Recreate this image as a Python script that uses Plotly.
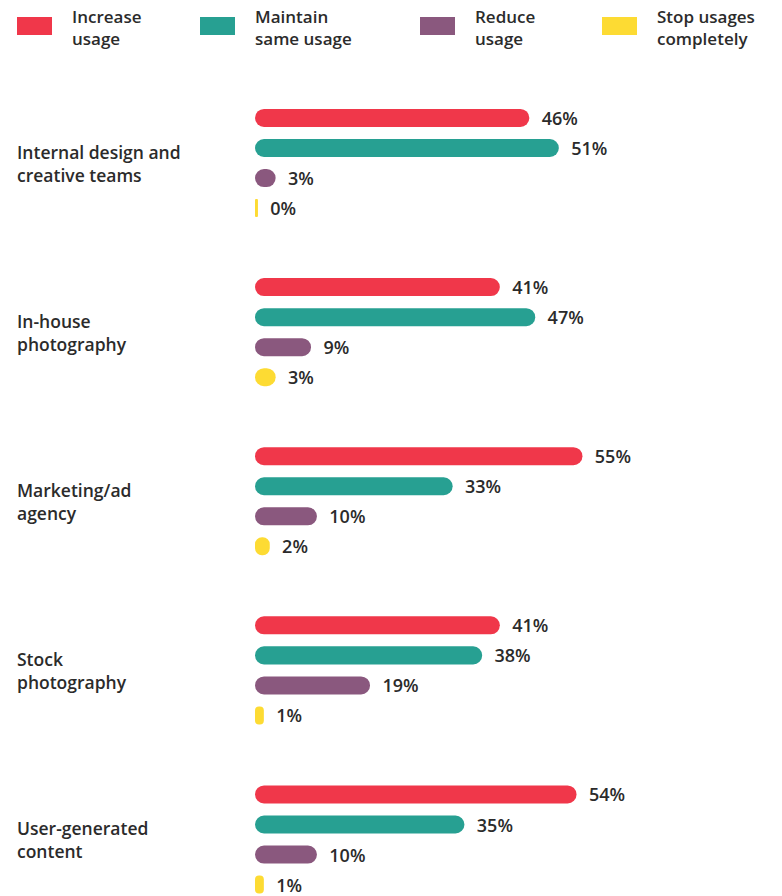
import plotly.graph_objects as go

# Survey data: planned change in usage per content source
categories = [
    "Internal design and<br>creative teams",
    "In-house<br>photography",
    "Marketing/ad<br>agency",
    "Stock<br>photography",
    "User-generated<br>content",
]
series_names = ["Increase usage", "Maintain same usage", "Reduce usage", "Stop usages completely"]
legend_labels = ["Increase<br>usage", "Maintain<br>same usage", "Reduce<br>usage", "Stop usages<br>completely"]
increase = [46, 41, 55, 41, 54]
maintain = [51, 47, 33, 38, 35]
reduce = [3, 9, 10, 19, 10]
stop = [0, 3, 2, 1, 1]

colors = ["#F0374A", "#27A092", "#8A587E", "#FDDB33"]
values = [increase, maintain, reduce, stop]

W, H = 782, 896
M_L, M_R, M_T, M_B = 255, 0, 70, 0
PW, PH = W - M_L - M_R, H - M_T - M_B
FONT = "Open Sans"
TXT = "#2b2b2b"
STUB = 0.5  # small stub so that 0% still shows as a thin line


def px_x(px):
    return (px - M_L) / PW


def px_y(py):
    return 1 + (M_T - py) / PH


fig = go.Figure()
for name, vals, col in zip(series_names, values, colors):
    fig.add_trace(go.Bar(
        y=categories,
        x=[v + STUB for v in vals],
        base=-STUB,
        customdata=vals,
        orientation="h",
        name=name,
        marker=dict(color=col, cornerradius=9, line=dict(width=0)),
        texttemplate="\u00a0\u00a0%{customdata}%",
        textposition="outside",
        constraintext="none",
        textfont=dict(family=FONT, size=18, color=TXT, weight=600),
        cliponaxis=False,
        showlegend=False,
    ))

# category labels on the left
for cat in categories:
    fig.add_annotation(
        x=px_x(15), xref="paper", y=cat, yref="y",
        text=cat, showarrow=False, xanchor="left", yanchor="middle", align="left",
        font=dict(family=FONT, size=17.5, color=TXT, weight=600),
    )

# custom legend with wide swatches
legend_x = [17, 200, 420, 602]
for lx, lab, col in zip(legend_x, legend_labels, colors):
    fig.add_shape(
        type="rect", xref="paper", yref="paper",
        x0=px_x(lx), x1=px_x(lx + 35), y0=px_y(35), y1=px_y(17),
        fillcolor=col, line=dict(width=0),
    )
    fig.add_annotation(
        x=px_x(lx + 53), xref="paper", y=px_y(27), yref="paper",
        text=lab, showarrow=False, xanchor="left", yanchor="middle", align="left",
        font=dict(family=FONT, size=17, color=TXT, weight=600),
    )

px_per_unit = 5.9
fig.update_layout(
    width=W, height=H,
    margin=dict(l=M_L, r=M_R, t=M_T, b=M_B),
    paper_bgcolor="white", plot_bgcolor="white",
    barmode="group", bargap=0.29, bargroupgap=0.4,
    xaxis=dict(range=[-STUB, -STUB + PW / px_per_unit], visible=False, fixedrange=True),
    yaxis=dict(range=[4.334, -0.55], visible=False, fixedrange=True),
)

# drop the default page margin so the figure sits at the window's corner
fig.write_html(
    "out.html",
    config={"displayModeBar": False},
    post_script="document.body.style.margin='0';",
)
